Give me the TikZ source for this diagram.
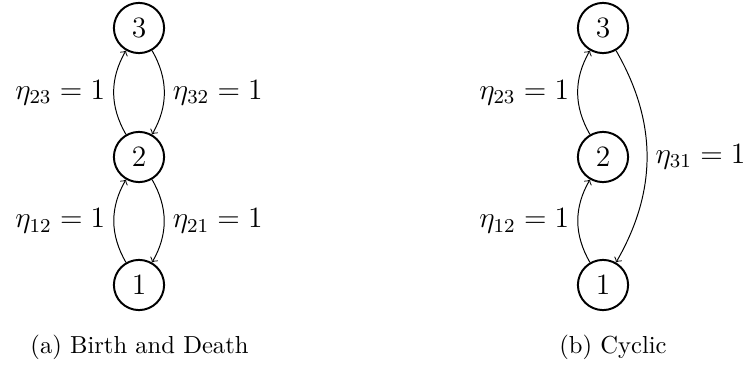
\documentclass[tikz,border=0pt]{standalone}
\begin{document}
\begin{tikzpicture}[x=0.4065pt,y=-0.4065pt,
  state/.style={circle,draw,thick,minimum size=20.4pt,inner sep=0pt,font=\large},
  lbl/.style={font=\large},
  conn/.style={->,line width=0.4pt},
  captext/.style={font=\normalsize}]
\useasboundingbox (0,0) rectangle (749,366);
% (a) Birth and Death
\node[state] (a3) at (139,28) {3};
\node[state] (a2) at (139,157) {2};
\node[state] (a1) at (139,285) {1};
\draw[conn] (a2) to[bend left=30] node[lbl,left] {$\eta_{23}=1$} (a3);
\draw[conn] (a3) to[bend left=30] node[lbl,right] {$\eta_{32}=1$} (a2);
\draw[conn] (a1) to[bend left=30] node[lbl,left] {$\eta_{12}=1$} (a2);
\draw[conn] (a2) to[bend left=30] node[lbl,right] {$\eta_{21}=1$} (a1);
\node[captext] (capa) at (139.5,347) {(a) Birth and Death};
% (b) Cyclic
\node[state] (b3) at (603,28) {3};
\node[state] (b2) at (603,157) {2};
\node[state] (b1) at (603,285) {1};
\draw[conn] (b2) to[bend left=30] node[lbl,left] {$\eta_{23}=1$} (b3);
\draw[conn] (b1) to[bend left=30] node[lbl,left] {$\eta_{12}=1$} (b2);
\draw[conn] (b3) to[bend left=30] node[lbl,right] {$\eta_{31}=1$} (b1);
\node[captext] (capb) at (613,347) {(b) Cyclic};
\end{tikzpicture}
\end{document}
